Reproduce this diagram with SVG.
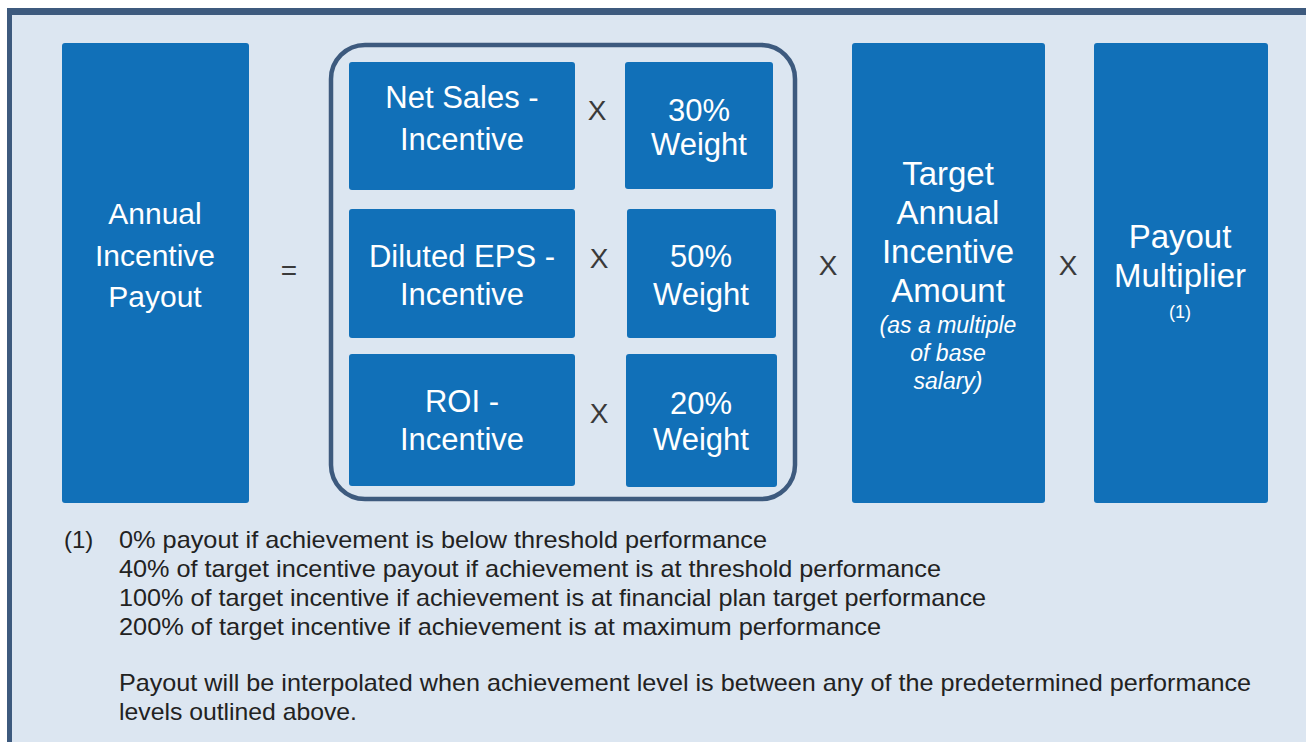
<svg xmlns="http://www.w3.org/2000/svg" width="1306" height="742" viewBox="0 0 1306 742">
<style>
.box{fill:#1170b8;}
.wt{fill:#ffffff;font-family:"Liberation Sans",Arial,sans-serif;text-anchor:middle;}
.m{font-size:31px;}
.b{font-size:33px;}
.it{font-size:23px;font-style:italic;}
.op{fill:#3a3a3a;font-family:"Liberation Sans",Arial,sans-serif;font-size:28px;text-anchor:middle;}
.fn{fill:#222222;font-family:"Liberation Sans",Arial,sans-serif;font-size:24px;}
</style>
<rect x="0" y="0" width="1306" height="742" fill="#ffffff"/>
<rect x="7" y="8" width="1299" height="734" fill="#dce6f1"/>
<rect x="7" y="8" width="1299" height="7" fill="#3d5a7e"/>
<rect x="7" y="8" width="5" height="734" fill="#3d5a7e"/>

<g id="annual-incentive-payout">
<rect class="box" x="62" y="43" width="187" height="460" rx="3"/>
<text class="wt" font-size="30" x="155" y="224">Annual</text>
<text class="wt" font-size="30" x="155" y="266">Incentive</text>
<text class="wt" font-size="30" x="155" y="307">Payout</text>
</g>

<g id="incentive-group">
<rect x="331" y="45" width="464" height="454" rx="34" fill="none" stroke="#3d5a7e" stroke-width="4.5"/>
</g>

<g id="net-sales">
<rect class="box" x="349" y="62" width="226" height="128" rx="3"/>
<text class="wt m" x="462" y="108">Net Sales -</text>
<text class="wt m" x="462" y="150">Incentive</text>
</g>
<g id="weight-30">
<rect class="box" x="625" y="62" width="148" height="127" rx="3"/>
<text class="wt m" x="699" y="121">30%</text>
<text class="wt m" x="699" y="155">Weight</text>
</g>

<g id="diluted-eps">
<rect class="box" x="349" y="209" width="226" height="129" rx="3"/>
<text class="wt m" x="462" y="267">Diluted EPS -</text>
<text class="wt m" x="462" y="305">Incentive</text>
</g>
<g id="weight-50">
<rect class="box" x="627" y="209" width="149" height="129" rx="3"/>
<text class="wt m" x="701" y="267">50%</text>
<text class="wt m" x="701" y="305">Weight</text>
</g>

<g id="roi">
<rect class="box" x="349" y="354" width="226" height="132" rx="3"/>
<text class="wt m" x="462" y="412">ROI -</text>
<text class="wt m" x="462" y="450">Incentive</text>
</g>
<g id="weight-20">
<rect class="box" x="626" y="354" width="151" height="133" rx="3"/>
<text class="wt m" x="701" y="414">20%</text>
<text class="wt m" x="701" y="450">Weight</text>
</g>

<g id="target-annual-incentive">
<rect class="box" x="852" y="43" width="193" height="460" rx="3"/>
<text class="wt b" x="948" y="185">Target</text>
<text class="wt b" x="948" y="224">Annual</text>
<text class="wt b" x="948" y="263">Incentive</text>
<text class="wt b" x="948" y="302">Amount</text>
<text class="wt it" x="948" y="333">(as a multiple</text>
<text class="wt it" x="948" y="361">of base</text>
<text class="wt it" x="948" y="389">salary)</text>
</g>

<g id="payout-multiplier">
<rect class="box" x="1094" y="43" width="174" height="460" rx="3"/>
<text class="wt b" x="1180" y="248">Payout</text>
<text class="wt b" x="1180" y="287">Multiplier</text>
<text class="wt" font-size="18" x="1180" y="318">(1)</text>
</g>

<g id="operators">
<text class="op" x="289" y="280">=</text>
<text class="op" x="597" y="120">X</text>
<text class="op" x="599" y="268">X</text>
<text class="op" x="599" y="423">X</text>
<text class="op" x="828" y="275">X</text>
<text class="op" x="1068" y="275">X</text>
</g>

<g id="footnote">
<text class="fn" x="64" y="548">(1)</text>
<text class="fn" x="119" y="548" textLength="648" lengthAdjust="spacingAndGlyphs">0% payout if achievement is below threshold performance</text>
<text class="fn" x="119" y="577" textLength="822" lengthAdjust="spacingAndGlyphs">40% of target incentive payout if achievement is at threshold performance</text>
<text class="fn" x="119" y="606" textLength="867" lengthAdjust="spacingAndGlyphs">100% of target incentive if achievement is at financial plan target performance</text>
<text class="fn" x="119" y="635" textLength="762" lengthAdjust="spacingAndGlyphs">200% of target incentive if achievement is at maximum performance</text>
<text class="fn" x="119" y="691" textLength="1132" lengthAdjust="spacingAndGlyphs">Payout will be interpolated when achievement level is between any of the predetermined performance</text>
<text class="fn" x="119" y="720" textLength="238" lengthAdjust="spacingAndGlyphs">levels outlined above.</text>
</g>
</svg>
